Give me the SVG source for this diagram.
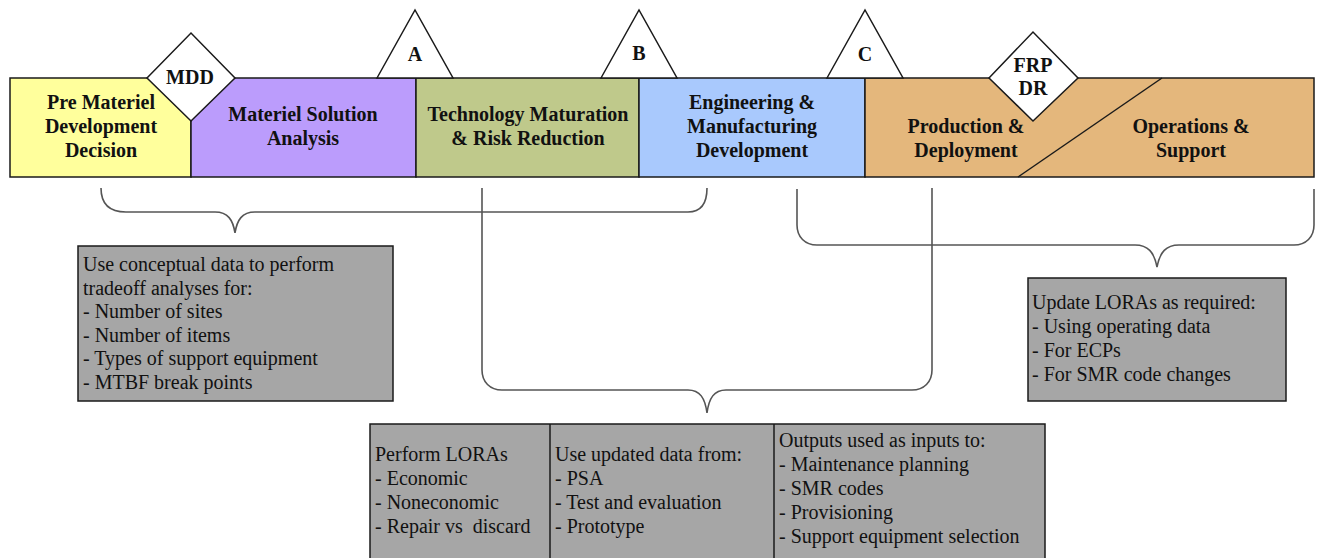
<svg xmlns="http://www.w3.org/2000/svg" width="1318" height="558" viewBox="0 0 1318 558">
<style>
.ph{stroke:#1a1a1a;stroke-width:1.5}
.ms{fill:#ffffff;stroke:#1a1a1a;stroke-width:1.5}
.hd{font-family:"Liberation Serif",serif;font-weight:bold;font-size:20px;fill:#111;text-anchor:middle}
.bx{fill:#a6a6a6;stroke:#1a1a1a;stroke-width:1.5}
.tx{font-family:"Liberation Serif",serif;font-size:20px;fill:#111}
.br{fill:none;stroke:#555;stroke-width:1.6}
</style>
<rect width="1318" height="558" fill="#ffffff"/>
<g id="phase-pre">
<rect class="ph" x="10" y="78" width="181" height="99" fill="#ffff9c"/>
<text class="hd" x="101" y="109">Pre Materiel</text>
<text class="hd" x="101" y="133">Development</text>
<text class="hd" x="101" y="157">Decision</text>
</g>
<g id="phase-msa">
<rect class="ph" x="191" y="78" width="225" height="99" fill="#bb9cfc"/>
<text class="hd" x="303" y="121">Materiel Solution</text>
<text class="hd" x="303" y="145">Analysis</text>
</g>
<g id="phase-tmrr">
<rect class="ph" x="416" y="78" width="223" height="99" fill="#bfc98b"/>
<text class="hd" x="528" y="121">Technology Maturation</text>
<text class="hd" x="528" y="145">&amp; Risk Reduction</text>
</g>
<g id="phase-emd">
<rect class="ph" x="639" y="78" width="226" height="99" fill="#a9c9fd"/>
<text class="hd" x="752" y="109">Engineering &amp;</text>
<text class="hd" x="752" y="133">Manufacturing</text>
<text class="hd" x="752" y="157">Development</text>
</g>
<g id="phase-pd-os">
<rect class="ph" x="865" y="78" width="449" height="99" fill="#e4b77c"/>
<line class="ph" x1="1162" y1="78" x2="1018" y2="177"/>
<text class="hd" x="966" y="133">Production &amp;</text>
<text class="hd" x="966" y="157">Deployment</text>
<text class="hd" x="1191" y="133">Operations &amp;</text>
<text class="hd" x="1191" y="157">Support</text>
</g>
<g id="milestone-mdd">
<polygon class="ms" points="147,78 191,33 235,78 191,121"/>
<text class="hd" x="190" y="84">MDD</text>
</g>
<g id="milestone-a">
<polygon class="ms" points="377,78 415,10 453,78"/>
<text class="hd" x="415" y="61">A</text>
</g>
<g id="milestone-b">
<polygon class="ms" points="601,78 639,10 677,78"/>
<text class="hd" x="639" y="60">B</text>
</g>
<g id="milestone-c">
<polygon class="ms" points="827,78 865,10 903,78"/>
<text class="hd" x="865" y="61">C</text>
</g>
<g id="milestone-frp">
<polygon class="ms" points="989,78 1033,32 1078,78 1033,121"/>
<text class="hd" x="1033" y="72">FRP</text>
<text class="hd" x="1033" y="95">DR</text>
</g>
<g id="connectors">
<path class="br" d="M101,188 C101,204 110,212 126,212 L215,212 C228,212 233,220 235,233 C237,220 242,212 255,212 L688,212 C700,212 707,204 707,188"/>
<path class="br" d="M482,188 L482,370 C482,382 490,390 502,390 L688,390 C700,390 705,398 707,413 C709,398 714,390 726,390 L912,390 C924,390 932,382 932,370 L932,188"/>
<path class="br" d="M797,189 L797,225 C797,237 805,245 817,245 L1135,245 C1148,245 1154,252 1157,267 C1160,252 1166,245 1179,245 L1294,245 C1306,245 1314,237 1314,225 L1314,189"/>
</g>
<g id="box-conceptual">
<rect class="bx" x="78" y="246" width="315" height="155"/>
<text class="tx" x="83" y="271">Use conceptual data to perform</text>
<text class="tx" x="83" y="294.5">tradeoff analyses for:</text>
<text class="tx" x="83" y="318">- Number of sites</text>
<text class="tx" x="83" y="341.5">- Number of items</text>
<text class="tx" x="83" y="365">- Types of support equipment</text>
<text class="tx" x="83" y="388.5">- MTBF break points</text>
</g>
<g id="box-update">
<rect class="bx" x="1028" y="278" width="258" height="123"/>
<text class="tx" x="1032" y="309">Update LORAs as required:</text>
<text class="tx" x="1032" y="333">- Using operating data</text>
<text class="tx" x="1032" y="357">- For ECPs</text>
<text class="tx" x="1032" y="381">- For SMR code changes</text>
</g>
<g id="box-lora">
<rect class="bx" x="370" y="424" width="675" height="140"/>
<line class="ph" x1="550" y1="424" x2="550" y2="558"/>
<line class="ph" x1="774" y1="424" x2="774" y2="558"/>
<text class="tx" x="375" y="461">Perform LORAs</text>
<text class="tx" x="375" y="485">- Economic</text>
<text class="tx" x="375" y="509">- Noneconomic</text>
<text class="tx" x="375" y="533" style="white-space:pre">- Repair vs  discard</text>
<text class="tx" x="555" y="461">Use updated data from:</text>
<text class="tx" x="555" y="485">- PSA</text>
<text class="tx" x="555" y="509">- Test and evaluation</text>
<text class="tx" x="555" y="533">- Prototype</text>
<text class="tx" x="779" y="447">Outputs used as inputs to:</text>
<text class="tx" x="779" y="471">- Maintenance planning</text>
<text class="tx" x="779" y="495">- SMR codes</text>
<text class="tx" x="779" y="519">- Provisioning</text>
<text class="tx" x="779" y="543">- Support equipment selection</text>
</g>
</svg>
